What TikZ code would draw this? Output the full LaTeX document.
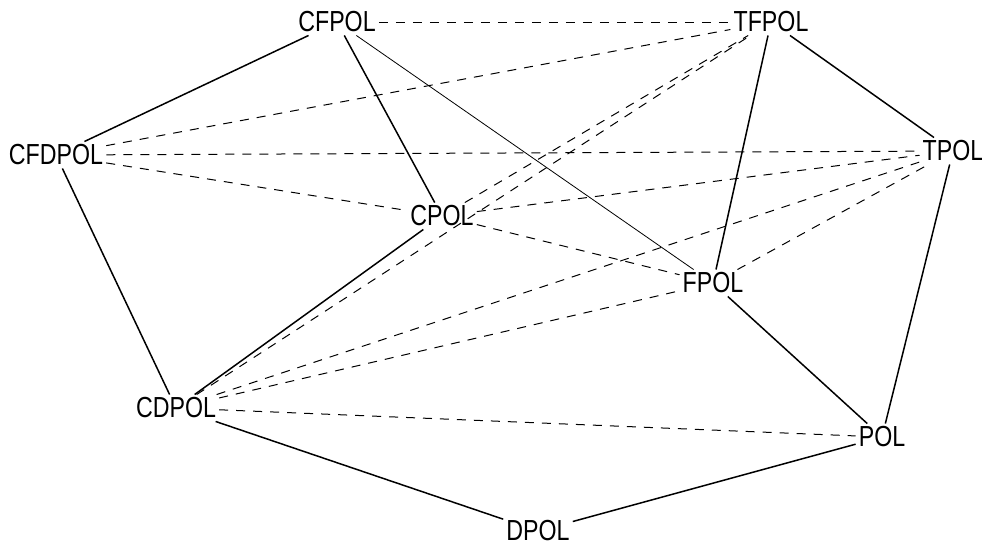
\documentclass[tikz,border=0pt]{standalone}
\usepackage{fontspec}
\setmainfont{Liberation Sans}[FakeStretch=0.8]
\begin{document}
\begin{tikzpicture}[x=1pt,y=-1pt,
  lbl/.style={font=\fontsize{29}{30}\selectfont, inner sep=3pt},
  solidedge/.style={line width=1.5pt},
  thinedge/.style={line width=0.8pt},
  dashedge/.style={line width=1pt, dash pattern=on 9pt off 8pt}]
\useasboundingbox (0,0) rectangle (982,546);
\node[lbl] (cfpol)  at (337,22)  {CFPOL};
\node[lbl] (tfpol)  at (771,22)  {TFPOL};
\node[lbl] (cfdpol) at (56,155)  {CFDPOL};
\node[lbl] (tpol)   at (953,151) {TPOL};
\node[lbl] (cpol)   at (442,216) {CPOL};
\node[lbl] (fpol)   at (713,283) {FPOL};
\node[lbl] (cdpol)  at (176,408) {CDPOL};
\node[lbl] (pol)    at (882,437) {POL};
\node[lbl] (dpol)   at (538,531) {DPOL};
% solid
\draw[solidedge] (cfpol) -- (cfdpol);
\draw[solidedge] (cfpol) -- (cpol);
\draw[thinedge]  (cfpol) -- (fpol);
\draw[solidedge] (tfpol) -- (tpol);
\draw[solidedge] (tfpol) -- (fpol);
\draw[solidedge] (tpol) -- (pol);
\draw[solidedge] (fpol) -- (pol);
\draw[solidedge] (cfdpol) -- (cdpol);
\draw[solidedge] (cpol) -- (cdpol);
\draw[solidedge] (cdpol) -- (dpol);
\draw[solidedge] (dpol) -- (pol);
% dashed
\draw[dashedge] (cfpol) -- (tfpol);
\draw[dashedge] (cfdpol) -- (tfpol);
\draw[dashedge] (cfdpol) -- (tpol);
\draw[dashedge] (cfdpol) -- (cpol);
\draw[dashedge] (cpol) -- (tfpol);
\draw[dashedge] (cpol) -- (tpol);
\draw[dashedge] (cpol) -- (fpol);
\draw[dashedge] (fpol) -- (tpol);
\draw[dashedge] (cdpol) -- (tfpol);
\draw[dashedge] (cdpol) -- (tpol);
\draw[dashedge] (cdpol) -- (fpol);
\draw[dashedge] (cdpol) -- (pol);
\end{tikzpicture}
\end{document}
